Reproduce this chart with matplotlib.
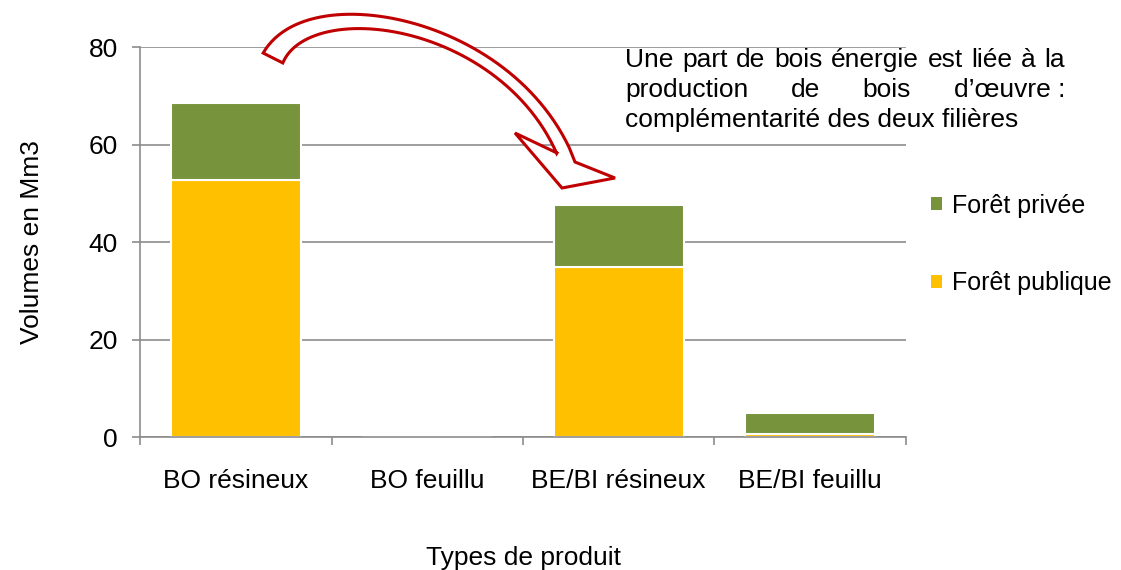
import numpy as np
import matplotlib
matplotlib.use("Agg")
import matplotlib.pyplot as plt
from matplotlib.patches import Patch, Polygon

plt.rcParams['font.family'] = ['Liberation Sans', 'DejaVu Sans']

# données
categories = ["BO résineux", "BO feuillu", "BE/BI résineux", "BE/BI feuillu"]
foret_publique = [52.8, 0.0, 34.9, 0.6]
foret_privee = [15.7, 0.0, 12.7, 4.3]
yticks = [0, 20, 40, 60, 80]

note_lines = ["Une part de bois énergie est liée à la",
              "production de bois d’œuvre\u00a0:",
              "complémentarité des deux filières"]

c_pub = "#FFC000"
c_priv = "#77933C"
c_axis = "#8C8C8C"
c_red = "#C00000"
fs = 19

fig = plt.figure(figsize=(11.21, 5.70), dpi=100)
W, H = fig.bbox.width, fig.bbox.height
ax = fig.add_axes([0.1249, 0.2333, 0.6833, 0.6842])

x = np.arange(len(categories))
ax.bar(x, foret_publique, width=0.68, color=c_pub, edgecolor="white", linewidth=1.5, zorder=2)
ax.bar(x, foret_privee, width=0.68, bottom=foret_publique, color=c_priv,
       edgecolor="white", linewidth=1.5, zorder=2)

ax.set_xlim(-0.5, len(categories) - 0.5)
ax.set_ylim(0, 80)
ax.set_yticks(yticks)
ax.set_yticklabels([str(v) for v in yticks], fontsize=fs)
ax.yaxis.grid(True, color=c_axis, linewidth=1.2, zorder=0)
ax.set_axisbelow(True)

ax.set_xticks(x)
ax.set_xticklabels(categories, fontsize=fs)
ax.set_xticks(np.arange(-0.5, len(categories)), minor=True)
ax.tick_params(axis="x", which="major", length=0, pad=23)
ax.tick_params(axis="x", which="minor", length=6, color=c_axis, width=1.2, direction="out")
ax.tick_params(axis="y", length=6, color=c_axis, width=1.2, pad=10)

for s in ["top", "right"]:
    ax.spines[s].set_visible(False)
for s in ["left", "bottom"]:
    ax.spines[s].set_color(c_axis)
    ax.spines[s].set_linewidth(1.2)

ax.set_ylabel("Volumes en Mm3", fontsize=fs, labelpad=32)
ax.set_xlabel("Types de produit", fontsize=fs, labelpad=38)

# légende
handles = [Patch(facecolor=c_priv), Patch(facecolor=c_pub)]
fig.legend(handles, ["Forêt privée", "Forêt publique"], loc="center left",
           bbox_to_anchor=(0.810, 0.571), frameon=False, fontsize=18,
           handlelength=0.45, handleheight=0.45, handletextpad=0.4, labelspacing=2.15)

# flèche courbe (contour rouge, fond blanc), géométrie en pixels de l'image
P0 = np.array([273.0, 58.0])
P3 = np.array([566.0, 157.5])
d0 = np.array([0.45, -0.89])
d1 = np.array([0.38, 0.92])
P1 = P0 + 80 * d0
P2 = P3 - 150 * d1
t = np.linspace(0, 1, 60)[:, None]
curve = (1 - t)**3 * P0 + 3 * t * (1 - t)**2 * P1 + 3 * t**2 * (1 - t) * P2 + t**3 * P3
deriv = 3 * (1 - t)**2 * (P1 - P0) + 6 * t * (1 - t) * (P2 - P1) + 3 * t**2 * (P3 - P2)
deriv = deriv / np.linalg.norm(deriv, axis=1)[:, None]
normal = np.column_stack([-deriv[:, 1], deriv[:, 0]])
width = 22 - 30 * t + 22 * t**2
side_in = curve + normal * width / 2
side_out = curve - normal * width / 2
head = np.array([[557, 153], [515, 133], [562, 188], [615, 178], [575, 162]], dtype=float)
outline = np.vstack([side_in[:-1], head, side_out[:-1][::-1]])
outline_fig = np.column_stack([outline[:, 0] / W, 1 - outline[:, 1] / H])
fig.add_artist(Polygon(outline_fig, closed=True, transform=fig.transFigure,
                       facecolor="white", edgecolor=c_red, linewidth=2.2,
                       joinstyle="miter", zorder=5))

# texte justifié
left_px, right_px = 625, 1065
base_px = [67, 97, 127]
fig.canvas.draw()
renderer = fig.canvas.get_renderer()
for i, line in enumerate(note_lines):
    yf = 1 - base_px[i] / H
    if i < len(note_lines) - 1:
        words = line.split(" ")
        tmp = [fig.text(0, 0, w, fontsize=fs) for w in words]
        widths = [tx.get_window_extent(renderer).width for tx in tmp]
        for tx in tmp:
            tx.remove()
        gap = (right_px - left_px - sum(widths)) / (len(words) - 1)
        xp = left_px
        for w, wd in zip(words, widths):
            fig.text(xp / W, yf, w, fontsize=fs, va="baseline")
            xp += wd + gap
    else:
        fig.text(left_px / W, yf, line, fontsize=fs, va="baseline")

fig.savefig("out.png", dpi=100)
